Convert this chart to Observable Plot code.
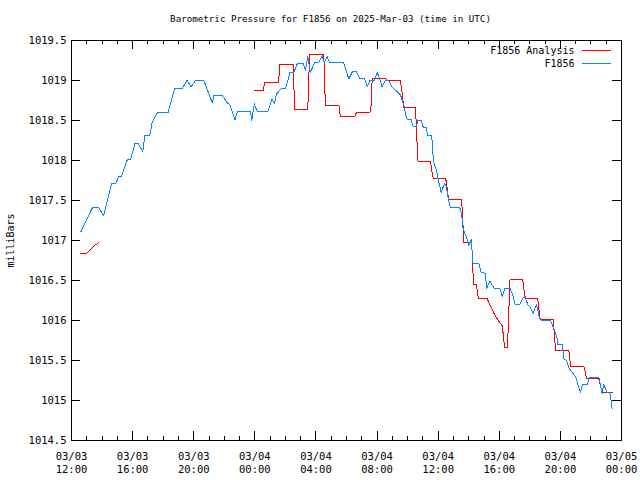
<!DOCTYPE html>
<html><head><meta charset="utf-8">
<script src="https://cdn.jsdelivr.net/npm/d3@7"></script>
<script src="https://cdn.jsdelivr.net/npm/@observablehq/plot@0.6"></script>
<style>body{margin:0;background:#fff} svg{display:block}</style>
</head><body><div id="chart"></div>
<script>
const titleText = "Barometric Pressure for F1856 on 2025-Mar-03 (time in UTC)";
const yLabel = "milliBars";
const startTime = "2025-03-03T12:00:00Z";
const endTime = "2025-03-05T00:00:00Z";

// F1856 observations: minutes after startTime, pressure (mb)
const stationMinutes = [37,82,107,126,157,173,186,196,219,232,249,262,280,288,307,317,338,379,405,434,454,470,487,520,553,559,592,612,622,642,651,703,708,718,729,771,788,797,805,824,841,858,873,887,910,919,928,938,954,971,984,993,1004,1014,1069,1089,1103,1119,1132,1151,1162,1172,1190,1201,1210,1220,1233,1246,1259,1272,1292,1305,1316,1334,1342,1355,1360,1373,1381,1393,1399,1413,1417,1421,1427,1433,1439,1447,1452,1460,1466,1472,1481,1488,1525,1530,1535,1540,1551,1560,1570,1574,1577,1600,1609,1626,1630,1643,1661,1682,1692,1701,1722,1731,1742,1760,1773,1779,1792,1802,1813,1826,1839,1845,1881,1897,1908,1910,1927,1934,1944,1953,1971,1980,1986,1999,2006,2025,2035,2071,2077,2084,2090,2104,2114,2121,2123];
const stationPressure = [1017.11,1017.41,1017.41,1017.31,1017.71,1017.71,1017.80,1017.80,1018.01,1018.01,1018.21,1018.21,1018.11,1018.31,1018.31,1018.48,1018.60,1018.60,1018.90,1018.90,1019.00,1018.92,1019.00,1019.00,1018.72,1018.81,1018.81,1018.72,1018.70,1018.51,1018.61,1018.61,1018.50,1018.71,1018.61,1018.61,1018.77,1018.71,1018.83,1018.90,1018.90,1019.10,1019.10,1019.21,1019.21,1019.13,1019.30,1019.10,1019.22,1019.22,1019.31,1019.22,1019.30,1019.22,1019.22,1019.02,1019.11,1019.11,1019.02,1019.02,1018.92,1019.00,1019.00,1019.10,1019.02,1018.92,1019.00,1019.00,1018.92,1018.88,1018.82,1018.69,1018.52,1018.51,1018.42,1018.42,1018.50,1018.50,1018.42,1018.41,1018.31,1018.31,1018.23,1018.00,1017.94,1017.88,1017.78,1017.67,1017.60,1017.67,1017.71,1017.67,1017.50,1017.41,1017.41,1017.35,1017.25,1017.13,1017.04,1016.94,1017.01,1016.83,1016.71,1016.71,1016.60,1016.59,1016.40,1016.49,1016.40,1016.40,1016.30,1016.40,1016.40,1016.34,1016.20,1016.20,1016.28,1016.30,1016.20,1016.16,1016.09,1016.20,1016.02,1016.00,1016.00,1015.88,1015.77,1015.70,1015.70,1015.52,1015.50,1015.41,1015.33,1015.30,1015.23,1015.10,1015.20,1015.20,1015.29,1015.29,1015.20,1015.09,1015.20,1015.10,1015.10,1014.96,1014.90];

// F1856 Analysis (null marks the gap in the analysis)
const analysisMinutes = [36,59,87,106,null,718,753,758,813,818,871,876,928,935,991,997,1050,1056,1112,1119,1172,1177,1181,1233,1239,1292,1299,1305,1351,1358,1361,1410,1417,1421,1469,1472,1477,1481,1530,1536,1538,1540,1570,1574,1577,1580,1590,1596,1600,1633,1646,1659,1672,1685,1692,1696,1701,1712,1714,1717,1722,1772,1779,1783,1831,1839,1842,1892,1894,1901,1953,1960,2012,2019,2022,2071,2084,2123];
const analysisPressure = [1016.84,1016.84,1016.93,1016.97,null,1018.88,1018.88,1018.97,1018.97,1019.20,1019.20,1018.64,1018.64,1019.32,1019.32,1018.69,1018.69,1018.55,1018.55,1018.60,1018.60,1018.70,1019.03,1019.03,1019.00,1019.00,1018.83,1018.66,1018.66,1018.15,1017.99,1017.99,1017.83,1017.78,1017.78,1017.73,1017.62,1017.51,1017.51,1017.37,1017.10,1016.97,1016.97,1016.85,1016.58,1016.45,1016.45,1016.31,1016.27,1016.27,1016.18,1016.09,1016.02,1015.96,1015.93,1015.81,1015.66,1015.66,1015.81,1016.08,1016.51,1016.51,1016.33,1016.28,1016.28,1016.04,1016.01,1016.01,1015.92,1015.63,1015.63,1015.43,1015.43,1015.34,1015.27,1015.27,1015.10,1015.10];

const yTickValues = [1014.5,1015,1015.5,1016,1016.5,1017,1017.5,1018,1018.5,1019,1019.5];
const seriesNames = ["F1856 Analysis", "F1856"];
const seriesColors = ["#ff0000", "#0a84ff"];

const t0 = new Date(startTime), t1 = new Date(endTime);
const toDate = m => m == null ? null : new Date(t0.getTime() + m * 60000);
const station = stationMinutes.map((m, i) => ({time: toDate(m), p: stationPressure[i]}));
const analysis = analysisMinutes.map((m, i) => ({time: toDate(m), p: analysisPressure[i]}));

const majorTicks = d3.utcHour.every(4).range(t0, new Date(t1.getTime() + 1));
const minorTicks = d3.utcHour.every(1).range(t0, new Date(t1.getTime() + 1));

const W = 640, H = 480, mL = 71, mR = 19, mT = 40, mB = 40;
const pw = W - mL - mR, ph = H - mT - mB;
const lineSymbol = {draw(ctx) { ctx.moveTo(-14.5, 0); ctx.lineTo(14.5, 0); }};

const legendMarks = seriesNames.flatMap((name, i) => [
  Plot.text([name], {frameAnchor: "top-right", textAnchor: "end", lineAnchor: "middle", dx: -47, dy: 10 + 13 * i, fill: "#000"}),
  Plot.dot([name], {frameAnchor: "top-right", dx: -25, dy: 9.5 + 13 * i, symbol: lineSymbol, stroke: seriesColors[i], fill: "none", strokeWidth: 1, shapeRendering: "crispEdges"})
]);

const chart = Plot.plot({
  width: W, height: H,
  marginLeft: mL, marginRight: mR, marginTop: mT, marginBottom: mB,
  style: {fontFamily: "'DejaVu Sans Mono', monospace", fontSize: "10px", background: "#fff", color: "#000"},
  x: {type: "utc", domain: [t0, t1]},
  y: {domain: [1014.5, 1019.5]},
  marks: [
    Plot.axisY({ticks: yTickValues, tickSize: 0, tickPadding: 5, fontSize: 10.5, tickFormat: d => String(d), label: null}),
    Plot.axisX({ticks: majorTicks, tickSize: 0, tickPadding: 10, fontSize: 10.5, lineHeight: 1.25, tickFormat: d3.utcFormat("%m/%d\n%H:%M"), label: null}),
    Plot.tickY(yTickValues, {y: d => d, insetRight: pw - 9, stroke: "#000", shapeRendering: "crispEdges"}),
    Plot.tickY(yTickValues, {y: d => d, insetLeft: pw - 9, stroke: "#000", shapeRendering: "crispEdges"}),
    Plot.tickX(majorTicks, {x: d => d, insetTop: ph - 9, stroke: "#000", shapeRendering: "crispEdges"}),
    Plot.tickX(majorTicks, {x: d => d, insetBottom: ph - 9, stroke: "#000", shapeRendering: "crispEdges"}),
    Plot.tickX(minorTicks, {x: d => d, insetTop: ph - 4, stroke: "#000", shapeRendering: "crispEdges"}),
    Plot.tickX(minorTicks, {x: d => d, insetBottom: ph - 4, stroke: "#000", shapeRendering: "crispEdges"}),
    Plot.line(analysis, {x: "time", y: "p", stroke: seriesColors[0], strokeWidth: 1, shapeRendering: "crispEdges"}),
    Plot.line(station, {x: "time", y: "p", stroke: seriesColors[1], strokeWidth: 1, shapeRendering: "crispEdges"}),
    Plot.frame({stroke: "#000", shapeRendering: "crispEdges"}),
    Plot.text([titleText], {frameAnchor: "top", lineAnchor: "middle", dx: -16, dy: -21, fontSize: 9.2}),
    Plot.text([yLabel], {frameAnchor: "left", textAnchor: "middle", lineAnchor: "middle", rotate: -90, dx: -61, fontSize: 10}),
    ...legendMarks
  ]
});
document.getElementById("chart").appendChild(chart);
</script>
</body></html>
